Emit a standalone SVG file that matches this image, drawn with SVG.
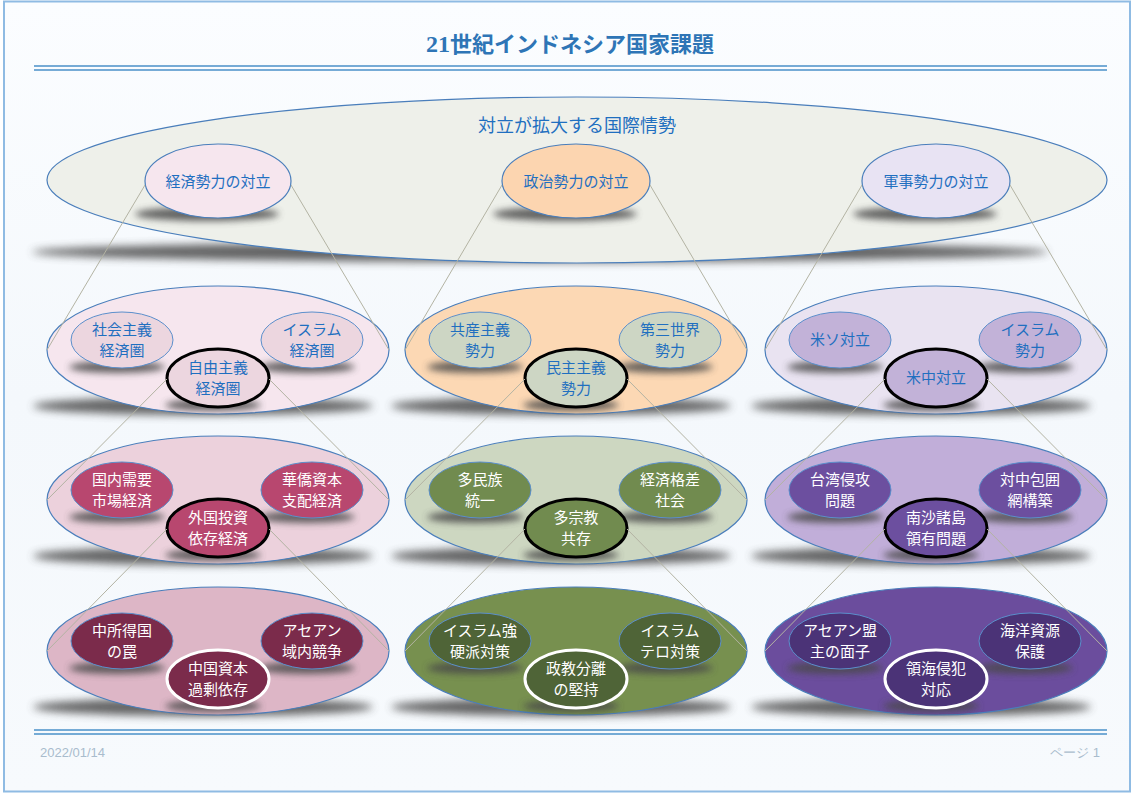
<svg xmlns="http://www.w3.org/2000/svg" width="1132" height="794" viewBox="0 0 1132 794">
<defs>
<linearGradient id="bg" x1="0" y1="0" x2="0" y2="1"><stop offset="0" stop-color="#fbfdff"/><stop offset="0.5" stop-color="#f4f8fc"/><stop offset="1" stop-color="#f7fafd"/></linearGradient>
<filter id="blur" x="-20%" y="-200%" width="140%" height="500%"><feGaussianBlur stdDeviation="3.5"/></filter>
<filter id="blurB" x="-10%" y="-200%" width="120%" height="500%"><feGaussianBlur stdDeviation="4.5"/></filter>
</defs>
<style>
.big{stroke:#4a7ebb;stroke-width:1.2}
.sm{stroke:#5b8fcc;stroke-width:1}
.bk{stroke:#000;stroke-width:3}
.wh{stroke:#fff;stroke-width:3}
.shd{fill:#4a4a4a;opacity:.85;filter:url(#blur)}
.shdB{fill:#4a4a4a;opacity:.85;filter:url(#blurB)}
text{font-family:"Noto Sans CJK JP","Noto Sans CJK SC",sans-serif;text-anchor:middle}
.t{font-size:15px;fill:#1f6fc0}
.w{font-size:15px;fill:#fff}
.conn line{stroke:#b3b3a3;stroke-width:1}
.rule{stroke:#4a90c8;stroke-width:1.5}
.foot{font-family:"Liberation Sans",sans-serif;font-size:13px;fill:#a9bccd}
</style>
<rect x="0" y="0" width="1132" height="794" fill="#ffffff"/>
<rect x="4" y="1.5" width="1126" height="790" fill="url(#bg)" stroke="#8fbbe3" stroke-width="2"/>
<g id="header">
<text x="570" y="52" font-size="22" font-weight="bold" fill="#2e75b6"><tspan font-family="Liberation Serif,serif" font-size="24">21</tspan>世紀インドネシア国家課題</text>
<line class="rule" x1="34" y1="66" x2="1107" y2="66"/>
<line class="rule" x1="34" y1="70" x2="1107" y2="70"/>
</g>
<g id="footer">
<line class="rule" x1="34" y1="730" x2="1107" y2="730"/>
<line class="rule" x1="34" y1="734" x2="1107" y2="734"/>
<text class="foot" x="40" y="757" style="text-anchor:start">2022/01/14</text>
<text class="foot" x="1100" y="757" style="text-anchor:end">ページ 1</text>
</g>

<g id="top">
<ellipse class="shdB" cx="540" cy="252" rx="508" ry="10"/>
<ellipse class="big" cx="577" cy="180" rx="530" ry="83" fill="#eef0ea"/>
<text x="577" y="132" font-size="18" fill="#1f6fc0">対立が拡大する国際情勢</text>
</g>

<g id="n-econ">
<ellipse class="shd" cx="207" cy="214" rx="72" ry="7"/>
<ellipse class="big" cx="218" cy="181" rx="73" ry="37" fill="#f6e6ee"/>
<text class="t" x="218" y="187">経済勢力の対立</text>
</g>
<g id="n-pol">
<ellipse class="shd" cx="565" cy="214" rx="72" ry="7"/>
<ellipse class="big" cx="576" cy="181" rx="74" ry="37" fill="#fcd5b0"/>
<text class="t" x="576" y="187">政治勢力の対立</text>
</g>
<g id="n-mil">
<ellipse class="shd" cx="925" cy="214" rx="72" ry="7"/>
<ellipse class="big" cx="936" cy="181" rx="74" ry="37" fill="#e8e3f3"/>
<text class="t" x="936" y="187">軍事勢力の対立</text>
</g>

<!-- big row ellipses -->
<g id="r2c1"><ellipse class="shdB" cx="203" cy="406" rx="170" ry="9"/><ellipse class="big" cx="218" cy="350" rx="171" ry="64" fill="#f6e6ee"/></g>
<g id="r2c2"><ellipse class="shdB" cx="561" cy="406" rx="170" ry="9"/><ellipse class="big" cx="576" cy="350" rx="171" ry="64" fill="#fcd8b4"/></g>
<g id="r2c3"><ellipse class="shdB" cx="921" cy="406" rx="170" ry="9"/><ellipse class="big" cx="936" cy="350" rx="171" ry="64" fill="#e9e3f1"/></g>
<g id="r3c1"><ellipse class="shdB" cx="203" cy="556" rx="170" ry="9"/><ellipse class="big" cx="218" cy="500" rx="171" ry="64" fill="#ecd1dc"/></g>
<g id="r3c2"><ellipse class="shdB" cx="561" cy="556" rx="170" ry="9"/><ellipse class="big" cx="576" cy="500" rx="171" ry="64" fill="#cdd7c1"/></g>
<g id="r3c3"><ellipse class="shdB" cx="921" cy="556" rx="170" ry="9"/><ellipse class="big" cx="936" cy="500" rx="171" ry="64" fill="#c1aed9"/></g>
<g id="r4c1"><ellipse class="shdB" cx="203" cy="707" rx="170" ry="9"/><ellipse class="big" cx="218" cy="651" rx="171" ry="64" fill="#ddb6c6"/></g>
<g id="r4c2"><ellipse class="shdB" cx="561" cy="707" rx="170" ry="9"/><ellipse class="big" cx="576" cy="651" rx="171" ry="64" fill="#77904f"/></g>
<g id="r4c3"><ellipse class="shdB" cx="921" cy="707" rx="170" ry="9"/><ellipse class="big" cx="936" cy="651" rx="171" ry="64" fill="#6b4d9d"/></g>

<!-- row 2 small -->
<g id="r2c1L"><ellipse class="shd" cx="117" cy="367" rx="48" ry="6"/><ellipse class="sm" cx="122" cy="340" rx="51" ry="28" fill="#ecd6df"/><text class="t" x="122" y="335">社会主義</text><text class="t" x="122" y="356">経済圏</text></g>
<g id="r2c1R"><ellipse class="shd" cx="307" cy="367" rx="48" ry="6"/><ellipse class="sm" cx="312" cy="340" rx="51" ry="28" fill="#ecd6df"/><text class="t" x="312" y="335">イスラム</text><text class="t" x="312" y="356">経済圏</text></g>
<g id="r2c1B"><ellipse class="shd" cx="213" cy="405" rx="48" ry="6"/><ellipse class="bk" cx="218" cy="378" rx="51" ry="29" fill="#ecd6df"/><text class="t" x="218" y="373">自由主義</text><text class="t" x="218" y="394">経済圏</text></g>

<g id="r2c2L"><ellipse class="shd" cx="475" cy="367" rx="48" ry="6"/><ellipse class="sm" cx="480" cy="340" rx="51" ry="28" fill="#cdd6c4"/><text class="t" x="480" y="335">共産主義</text><text class="t" x="480" y="356">勢力</text></g>
<g id="r2c2R"><ellipse class="shd" cx="665" cy="367" rx="48" ry="6"/><ellipse class="sm" cx="670" cy="340" rx="51" ry="28" fill="#cdd6c4"/><text class="t" x="670" y="335">第三世界</text><text class="t" x="670" y="356">勢力</text></g>
<g id="r2c2B"><ellipse class="shd" cx="571" cy="405" rx="48" ry="6"/><ellipse class="bk" cx="576" cy="378" rx="51" ry="29" fill="#cdd6c4"/><text class="t" x="576" y="373">民主主義</text><text class="t" x="576" y="394">勢力</text></g>

<g id="r2c3L"><ellipse class="shd" cx="835" cy="367" rx="48" ry="6"/><ellipse class="sm" cx="840" cy="340" rx="51" ry="28" fill="#c2b2d8"/><text class="t" x="840" y="345">米ソ対立</text></g>
<g id="r2c3R"><ellipse class="shd" cx="1025" cy="367" rx="48" ry="6"/><ellipse class="sm" cx="1030" cy="340" rx="51" ry="28" fill="#c2b2d8"/><text class="t" x="1030" y="335">イスラム</text><text class="t" x="1030" y="356">勢力</text></g>
<g id="r2c3B"><ellipse class="shd" cx="931" cy="405" rx="48" ry="6"/><ellipse class="bk" cx="936" cy="378" rx="51" ry="29" fill="#c2b2d8"/><text class="t" x="936" y="383">米中対立</text></g>

<!-- row 3 small -->
<g id="r3c1L"><ellipse class="shd" cx="117" cy="517" rx="48" ry="6"/><ellipse class="sm" cx="122" cy="490" rx="51" ry="28" fill="#b8476f"/><text class="w" x="122" y="485">国内需要</text><text class="w" x="122" y="506">市場経済</text></g>
<g id="r3c1R"><ellipse class="shd" cx="307" cy="517" rx="48" ry="6"/><ellipse class="sm" cx="312" cy="490" rx="51" ry="28" fill="#b8476f"/><text class="w" x="312" y="485">華僑資本</text><text class="w" x="312" y="506">支配経済</text></g>
<g id="r3c1B"><ellipse class="shd" cx="213" cy="555" rx="48" ry="6"/><ellipse class="bk" cx="218" cy="528" rx="51" ry="29" fill="#b8476f"/><text class="w" x="218" y="523">外国投資</text><text class="w" x="218" y="544">依存経済</text></g>

<g id="r3c2L"><ellipse class="shd" cx="475" cy="517" rx="48" ry="6"/><ellipse class="sm" cx="480" cy="490" rx="51" ry="28" fill="#718b4f"/><text class="w" x="480" y="485">多民族</text><text class="w" x="480" y="506">統一</text></g>
<g id="r3c2R"><ellipse class="shd" cx="665" cy="517" rx="48" ry="6"/><ellipse class="sm" cx="670" cy="490" rx="51" ry="28" fill="#718b4f"/><text class="w" x="670" y="485">経済格差</text><text class="w" x="670" y="506">社会</text></g>
<g id="r3c2B"><ellipse class="shd" cx="571" cy="555" rx="48" ry="6"/><ellipse class="bk" cx="576" cy="528" rx="51" ry="29" fill="#718b4f"/><text class="w" x="576" y="523">多宗教</text><text class="w" x="576" y="544">共存</text></g>

<g id="r3c3L"><ellipse class="shd" cx="835" cy="517" rx="48" ry="6"/><ellipse class="sm" cx="840" cy="490" rx="51" ry="28" fill="#6c4f9f"/><text class="w" x="840" y="485">台湾侵攻</text><text class="w" x="840" y="506">問題</text></g>
<g id="r3c3R"><ellipse class="shd" cx="1025" cy="517" rx="48" ry="6"/><ellipse class="sm" cx="1030" cy="490" rx="51" ry="28" fill="#6c4f9f"/><text class="w" x="1030" y="485">対中包囲</text><text class="w" x="1030" y="506">網構築</text></g>
<g id="r3c3B"><ellipse class="shd" cx="931" cy="555" rx="48" ry="6"/><ellipse class="bk" cx="936" cy="528" rx="51" ry="29" fill="#6c4f9f"/><text class="w" x="936" y="523">南沙諸島</text><text class="w" x="936" y="544">領有問題</text></g>

<!-- row 4 small -->
<g id="r4c1L"><ellipse class="shd" cx="117" cy="668" rx="48" ry="6"/><ellipse class="sm" cx="122" cy="641" rx="51" ry="28" fill="#7b2b4b"/><text class="w" x="122" y="636">中所得国</text><text class="w" x="122" y="657">の罠</text></g>
<g id="r4c1R"><ellipse class="shd" cx="307" cy="668" rx="48" ry="6"/><ellipse class="sm" cx="312" cy="641" rx="51" ry="28" fill="#7b2b4b"/><text class="w" x="312" y="636">アセアン</text><text class="w" x="312" y="657">域内競争</text></g>
<g id="r4c1B"><ellipse class="shd" cx="213" cy="706" rx="48" ry="6"/><ellipse class="wh" cx="218" cy="679" rx="51" ry="29" fill="#7b2b4b"/><text class="w" x="218" y="674">中国資本</text><text class="w" x="218" y="695">過剰依存</text></g>

<g id="r4c2L"><ellipse class="shd" cx="475" cy="668" rx="48" ry="6"/><ellipse class="sm" cx="480" cy="641" rx="51" ry="28" fill="#4f6437"/><text class="w" x="480" y="636">イスラム強</text><text class="w" x="480" y="657">硬派対策</text></g>
<g id="r4c2R"><ellipse class="shd" cx="665" cy="668" rx="48" ry="6"/><ellipse class="sm" cx="670" cy="641" rx="51" ry="28" fill="#4f6437"/><text class="w" x="670" y="636">イスラム</text><text class="w" x="670" y="657">テロ対策</text></g>
<g id="r4c2B"><ellipse class="shd" cx="571" cy="706" rx="48" ry="6"/><ellipse class="wh" cx="576" cy="679" rx="51" ry="29" fill="#4f6437"/><text class="w" x="576" y="674">政教分離</text><text class="w" x="576" y="695">の堅持</text></g>

<g id="r4c3L"><ellipse class="shd" cx="835" cy="668" rx="48" ry="6"/><ellipse class="sm" cx="840" cy="641" rx="51" ry="28" fill="#4b3377"/><text class="w" x="840" y="636">アセアン盟</text><text class="w" x="840" y="657">主の面子</text></g>
<g id="r4c3R"><ellipse class="shd" cx="1025" cy="668" rx="48" ry="6"/><ellipse class="sm" cx="1030" cy="641" rx="51" ry="28" fill="#4b3377"/><text class="w" x="1030" y="636">海洋資源</text><text class="w" x="1030" y="657">保護</text></g>
<g id="r4c3B"><ellipse class="shd" cx="931" cy="706" rx="48" ry="6"/><ellipse class="wh" cx="936" cy="679" rx="51" ry="29" fill="#4b3377"/><text class="w" x="936" y="674">領海侵犯</text><text class="w" x="936" y="695">対応</text></g>

<g class="conn" id="connectors">
<line x1="145" y1="185" x2="47" y2="350"/><line x1="291" y1="185" x2="389" y2="350"/>
<line x1="502" y1="185" x2="405" y2="350"/><line x1="650" y1="185" x2="747" y2="350"/>
<line x1="862" y1="185" x2="765" y2="350"/><line x1="1010" y1="185" x2="1107" y2="350"/>
<line x1="167" y1="379" x2="47" y2="500"/><line x1="269" y1="379" x2="389" y2="500"/>
<line x1="525" y1="379" x2="405" y2="500"/><line x1="627" y1="379" x2="747" y2="500"/>
<line x1="885" y1="379" x2="765" y2="500"/><line x1="987" y1="379" x2="1107" y2="500"/>
<line x1="167" y1="529" x2="47" y2="651"/><line x1="269" y1="529" x2="389" y2="651"/>
<line x1="525" y1="529" x2="405" y2="651"/><line x1="627" y1="529" x2="747" y2="651"/>
<line x1="885" y1="529" x2="765" y2="651"/><line x1="987" y1="529" x2="1107" y2="651"/>
</g>
</svg>
